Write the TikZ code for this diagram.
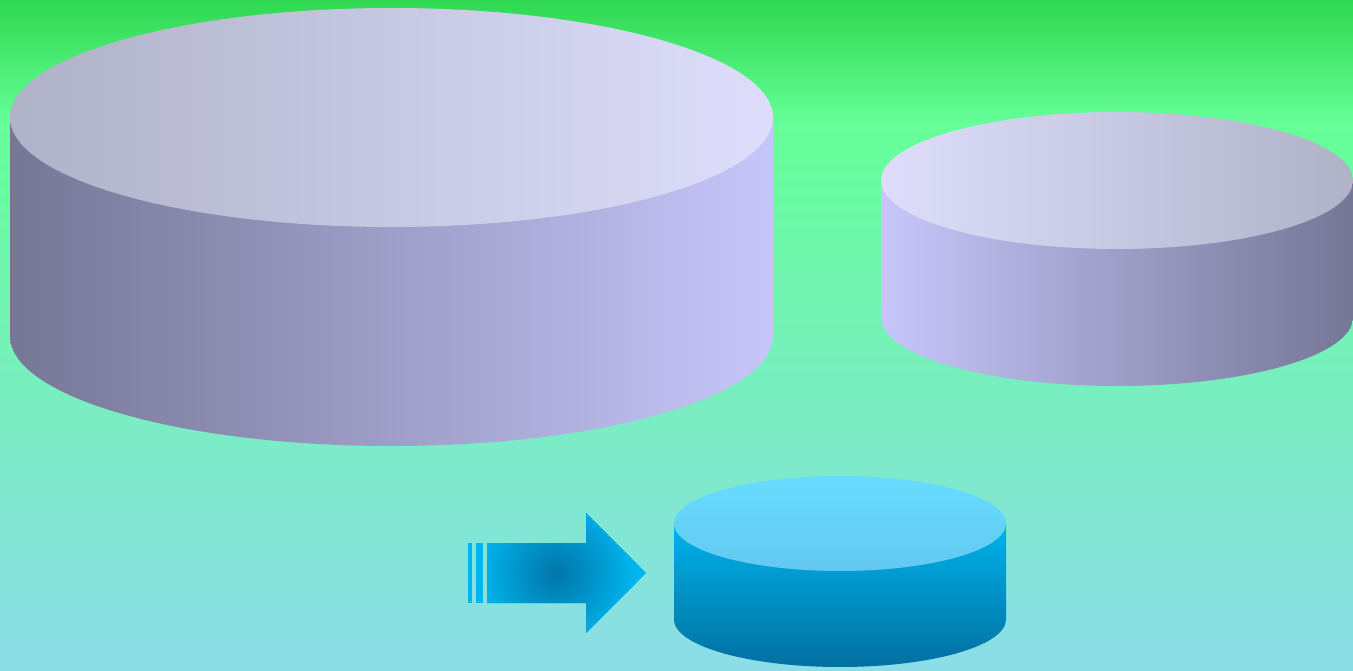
\documentclass[tikz,border=0pt]{standalone}
\usepackage{xcolor}
\usepackage{tikz}
\usetikzlibrary{backgrounds}
\definecolor{skytop}{RGB}{48,216,80}
\definecolor{skymid}{RGB}{102,255,153}
\definecolor{skylow}{RGB}{140,221,232}
\definecolor{lilacdark}{RGB}{118,118,150}
\definecolor{lilacside}{RGB}{198,198,250}
\definecolor{lilacgrey}{RGB}{176,178,200}
\definecolor{lilaclight}{RGB}{222,222,252}
\definecolor{cyantop}{RGB}{102,221,255}
\definecolor{cyantopb}{RGB}{100,200,240}
\definecolor{cyanside}{RGB}{0,178,235}
\definecolor{cyandeep}{RGB}{0,112,160}
\definecolor{arrowcore}{RGB}{0,118,168}
\definecolor{arrowrim}{RGB}{0,182,240}
\newcommand\unitsize{0.02}
\tikzset{tankside/.style={left color=lilacdark, right color=lilacside}}
\tikzset{tanklid/.style={left color=lilacgrey, right color=lilaclight}}
\tikzset{tanksideflip/.style={left color=lilacside, right color=lilacdark}}
\tikzset{tanklidflip/.style={left color=lilaclight, right color=lilacgrey}}
\tikzset{drumside/.style={top color=cyanside, bottom color=cyandeep}}
\tikzset{drumlid/.style={top color=cyantop, bottom color=cyantopb}}
\tikzset{pushbar/.style={fill=arrowrim}}
\tikzset{pusharrow/.style={inner color=arrowcore, outer color=arrowrim}}

\begin{document}
\begin{tikzpicture}[x=\unitsize cm, y=\unitsize cm]
% backdrop
\shade[top color=skytop, bottom color=skymid] (0,545) rectangle (1353,670);
\shade[top color=skymid, bottom color=skylow] (0,0) rectangle (1353,545);
\useasboundingbox (0,0) rectangle (1353,670);
% large tank
\shade[tankside] (10,552.5) -- (10,334) arc (180:360:381.5 and 110) -- (773,552.5) -- cycle;
\shade[tanklid] (391.5,552.5) ellipse [x radius=381.5, y radius=109.5];
% right tank
\shade[tanksideflip] (881,489.5) -- (881,352.5) arc (180:360:236 and 68.5) -- (1353,489.5) -- cycle;
\shade[tanklidflip] (1117,489.5) ellipse [x radius=236, y radius=68.5];
% small drum
\shade[drumside] (674,146.5) -- (674,50.5) arc (180:360:166 and 47.5) -- (1006,146.5) -- cycle;
\shade[drumlid] (840,146.5) ellipse [x radius=166, y radius=47.5];
% arrow
\fill[pushbar] (468,67) rectangle (472,127);
\fill[pushbar] (476,67) rectangle (483,127);
\fill[arrowrim] (487,67) -- (487,127) -- (586,127) -- (586,157) -- (646,97) -- (586,37) -- (586,67) -- cycle;
\begin{scope}
\clip (487,67) -- (487,127) -- (586,127) -- (586,157) -- (646,97) -- (586,37) -- (586,67) -- cycle;
\shade[pusharrow] (556,97) circle [x radius=80, y radius=80];
\end{scope}
\end{tikzpicture}
\end{document}
